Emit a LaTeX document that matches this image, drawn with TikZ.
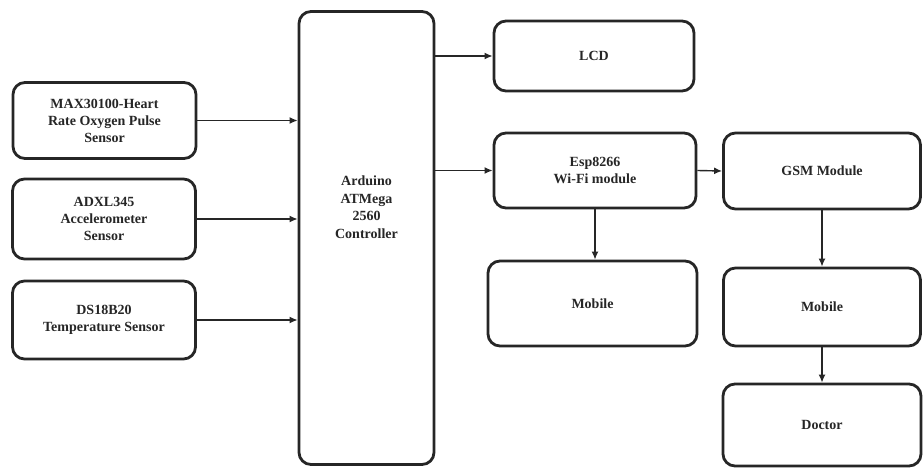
\documentclass[tikz,border=0pt]{standalone}
\usepackage{fontspec}
\setmainfont{Liberation Serif}
\usetikzlibrary{arrows.meta}
\definecolor{ink}{HTML}{262626}
\tikzset{
  blk/.style={draw=ink, line width=2.8pt, rounded corners=12pt, fill=white,
    align=center, font=\fontsize{14}{17}\selectfont\bfseries, text=ink,
    inner sep=0pt},
  lbl/.style={align=center, font=\fontsize{14}{17.5}\selectfont\bfseries, text=ink},
  arr/.style={draw=ink, line width=1.4pt, -{Latex[length=8pt,width=7pt]}}
}
\begin{document}
\begin{tikzpicture}[x=1pt,y=-1pt]
\useasboundingbox (0,0) rectangle (923,468);
% input blocks
\node[blk, minimum width=183pt, minimum height=76pt] (max) at (104.5,120.5) {MAX30100-Heart\\Rate Oxygen Pulse\\Sensor};
\node[blk, minimum width=183pt, minimum height=80pt] (adxl) at (104,219) {ADXL345\\Accelerometer\\Sensor};
\node[blk, minimum width=183pt, minimum height=78pt] (ds) at (104,320) {DS18B20\\Temperature Sensor};
% controller
\node[blk, minimum width=135pt, minimum height=453pt] (ard) at (366.5,238) {};
\node[lbl] (ardtxt) at (366.5,207) {Arduino\\ATMega\\2560\\Controller};
% outputs
\node[blk, minimum width=200pt, minimum height=70pt] (lcd) at (594,56) {LCD};
\node[blk, minimum width=202pt, minimum height=75pt] (esp) at (595,170.5) {Esp8266\\Wi-Fi module};
\node[blk, minimum width=197pt, minimum height=76pt] (gsm) at (822,171) {GSM Module};
\node[blk, minimum width=209pt, minimum height=85pt] (mob1) at (592.5,303.5) {Mobile};
\node[blk, minimum width=197pt, minimum height=78pt] (mob2) at (822,307) {Mobile};
\node[blk, minimum width=198pt, minimum height=82pt] (doc) at (822,425) {Doctor};
% connectors
\draw[arr] (max.east) -- (ard.west |- max.east);
\draw[arr] (adxl.east) -- (ard.west |- adxl.east);
\draw[arr] (ds.east) -- (ard.west |- ds.east);
\draw[arr] (ard.east |- lcd.west) -- (lcd.west);
\draw[arr] (ard.east |- esp.west) -- (esp.west);
\draw[arr] (esp.east) -- (gsm.west);
\draw[arr] (esp.south) -- (esp.south |- mob1.north);
\draw[arr] (gsm.south) -- (gsm.south |- mob2.north);
\draw[arr] (mob2.south) -- (mob2.south |- doc.north);
\end{tikzpicture}
\end{document}
